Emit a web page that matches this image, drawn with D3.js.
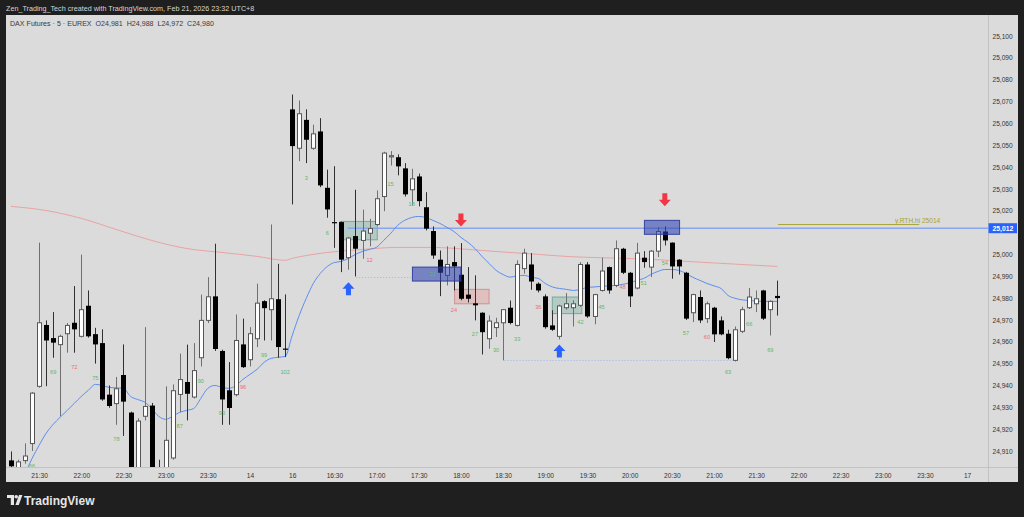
<!DOCTYPE html>
<html><head><meta charset="utf-8">
<script src="https://cdn.jsdelivr.net/npm/d3@7/dist/d3.min.js"></script>
<style>
html,body{margin:0;padding:0;background:#1f1f1f;overflow:hidden;}
svg{display:block;font-family:"Liberation Sans",Arial,sans-serif;}
</style></head><body>
<svg id="chart" width="1024" height="517"></svg>
<script>
// ---------------- DATA ----------------
const headerText = "Zen_Trading_Tech created with TradingView.com, Feb 21, 2026 23:32 UTC+8";
const legendText = "DAX Futures \u00b7 5 \u00b7 EUREX  O24,981  H24,988  L24,972  C24,980";

const xTickBars   = [4,10,16,22,28,34,40,46,52,58,64,70,76,82,88,94,100,106,112,118,124,130,136];
const xTickLabels = ["21:30","22:00","22:30","23:00","23:30","14","16","16:30","17:00","17:30","18:00","18:30","19:00","19:30","20:00","20:30","21:00","21:30","22:00","22:30","23:00","23:30","17"];
const priceTicks  = [24910,24920,24930,24940,24950,24960,24970,24980,24990,25000,25010,25020,25030,25040,25050,25060,25070,25080,25090,25100];

const opens  = [24905.7,24902,24905.6,24913.4,24939.6,24967.7,24961.7,24958.7,24963.7,24968.7,24962.5,24976.5,24963.5,24959.4,24935.8,24931.7,24944.8,24927.6,24901,24925.9,24930.8,24899,24899,24906.8,24935.9,24941.6,24934.7,24952.7,24969.8,24980.8,24955.8,24937.8,24935.8,24958.8,24951.8,24961.4,24978.6,24974.7,24979.5,24956.9,
25066.4,25048.6,25061.6,25048.6,25056.3,25030.5,25014.8,25014.8,24998.5,25008.4,25006.4,25009.7,25013.7,25026.5,25045,25044.5,25039.4,25029.6,25035.7,25021.6,25010.7,24997.6,24990.4,24996.5,24990.7,24981.6,24977.6,24973.3,24961.4,24966.5,24968.7,24975.6,24967.5,24993.5,24995.4,24986.6,24980.8,24967.5,24962.5,24975.6,24975.6,24976.7,24995.4,24971.6,24983.5,24994.2,24985.8,25002.6,24991.6,24984.6,24998.5,24994.2,25001.5,25010.5,25005.4,24997.6,24991.6,24973.3,24980.5,24970.6,24975.6,24969.8,24963.7,24951.5,24964.8,24975.6,24977.4,24983.5,24974.7,24981];
const highs  = [24909.8,24906,24913.5,24937,25005.4,24969.8,24973.6,24963.3,24968.6,24985.5,24999.9,24983.5,24966.4,24965.7,24940,24943.9,24958.8,24928,24925,24966.7,24932,24906,24939.6,24940.5,24954.6,24958.7,24959.4,24981.6,24989.6,25004.9,24956.4,24950.7,24972.5,24970.6,24966.7,24986.6,24979,25013.7,24995.7,24981.7,
25073.2,25070.5,25066.4,25059.4,25062.4,25038.8,25040.4,25015,25008,25029.6,25020.5,25016.3,25029.3,25047,25047.3,25045.8,25041.8,25039.2,25037,25028.5,25012.8,25001.8,25003.7,25003.7,25005.2,24994.2,24990.4,24973.5,24972.1,24971,24975,24978.9,24997.3,25002.6,25000.6,24987.2,24981.7,24974.4,24977,24982.3,24979,24996.5,24996.5,24982,24998.5,24994.5,25006.4,25003,24992,25005.3,25001.5,25002,25012.5,25012.8,25005.5,24997.8,24992,24982,24983.5,24978.4,24976,24971.6,24965.5,24967,24976,24984.6,24983.5,24983.8,24979,24988];
const lows   = [24902,24901,24904.2,24910,24939,24939.7,24952.7,24925.9,24955,24955,24962,24961.9,24950,24933,24929.8,24922,24916.9,24898,24898,24924,24897,24890,24896,24906,24927.8,24924,24934,24948.7,24968.6,24955.8,24922,24922,24935,24948,24948.7,24957.6,24960.6,24960.6,24952.7,24953,
25022.9,25042.7,25041.8,25047.9,25030.8,25016.8,25003,24991.9,24993,24989.9,24998,25003.7,25013,25019.8,25040.7,25036.2,25026.5,25022.4,25022,25011,24998,24980.9,24985.8,24983.5,24979,24978,24969.8,24954.2,24956.8,24962.2,24951.5,24968,24967,24991.2,24983.8,24982.6,24966,24965,24961.1,24974.7,24967,24976,24971,24968,24983,24982,24985,24991,24975.9,24984,24993.9,24989.6,24998.8,25004.1,24988.9,24990.8,24970,24969,24968.6,24968.6,24959.9,24963,24952,24951,24964,24975,24973.6,24970,24962.9,24972];
const closes = [24903,24905,24907.7,24936.5,24968.7,24960.6,24959.6,24962.5,24967.5,24965.7,24974.7,24962.5,24958.8,24933.6,24930.6,24938.5,24932.6,24901,24923.7,24930.4,24900,24895,24914.9,24937.6,24942.7,24936.2,24946.8,24969.8,24980.6,24956.7,24933.6,24929.7,24960.6,24948.4,24963.7,24977.7,24975.4,24979.7,24957.6,24956.8,
25049.6,25064.4,25052.5,25055.2,25031.6,25020.6,25014.6,24997.6,25007.5,25002.6,25010.7,25011.8,25025.5,25046.4,25045.2,25040.3,25027.5,25034.6,25024.4,25011.8,24999.5,24991.6,24995.4,24994.5,24979.7,24979.7,24976.7,24964.4,24969.5,24968.7,24974.7,24968.6,24995.4,25000.6,24987.6,24983.5,24966.7,24965.5,24976.4,24977.4,24977.4,24995.4,24971.6,24981.6,24992.4,24983.5,25002.6,24991.6,24980.8,25000.6,24996.5,25001.5,25010.5,25006.4,24994.5,24994.5,24970.6,24981.6,24969.8,24977.4,24963.4,24963.4,24952.5,24965.5,24974.7,24980.5,24979.7,24970.6,24978.5,24980];

// fast moving average (blue), one value per bar starting at bar 2
const emaStartBar = 2;
const emaValues = [24899.3,24906.6,24912.6,24918.1,24922.2,24925.5,24928.6,24931.8,24935,24937.8,24940.5,24940.0,24939.1,24938.9,24938.7,24935,24933.6,24932.4,24929.5,24925.9,24924.5,24925.9,24927.7,24928.6,24929.5,24934.1,24938.7,24940.0,24939.1,24938.7,24940.0,24942.8,24945.1,24947.4,24950.6,24952.4,24952.9,24953.3,
24962.9,24972.1,24979.9,24986.7,24991.3,24994.5,24996.3,24996.8,24998.2,25000,25001.4,25002.3,25003.3,25006.4,25009.6,25013.3,25015.6,25016.9,25017.4,25016.9,25015.6,25014.2,25012.4,25010.5,25007.8,25005.5,25002.7,24999.1,24995.9,24992.7,24990.8,24989.6,24990.2,24990.4,24989.5,24989.0,24986.7,24985.1,24984.4,24984.0,24983.5,24984.0,24984.9,24985.1,24985.4,24985.6,24985.8,24986.3,24987.0,24988.1,24989.0,24990.8,24992.2,24993.1,24993.1,24992.7,24991.3,24989.5,24988.1,24986.7,24985.6,24984.4,24981.2,24979.9,24979.2,24978.9,24978.6,24978.5,24978.5,24978.5];

// slow moving average (pink), sampled bars
const slowMaBars   = [0,5,10,15,20,25,30,35,39,40,42,45,50,55,60,65,70,75,80,85,90,95,100,105,109];
const slowMaValues = [25022.0,25020.1,25016.5,25011.4,25006.4,25002.7,25000.9,24999.1,24997.3,24998.2,24999.5,25000.9,25002.3,25003.2,25003.2,25002.3,25001.1,25000,24998.9,24998.4,24997.9,24997.0,24996.1,24995.2,24994.5];

// bar-count labels
const countBars   = [3,6,9,12,15,24,27,30,33,36,39,42,45,51,54,57,60,63,66,69,72,75,78,81,84,87,90,93,96,99,102,105,108];
const countTexts  = ["66","69","72","75","78","87","90","93","96","99","102","3","6","12","15","18","21","24","27","30","33","36","39","42","45","48","51","54","57","60","63","66","69"];
const countPrices = [24903.1,24946.1,24948.3,24943.2,24915.3,24921.3,24942.0,24927.4,24939.3,24954.1,24946.0,25035.1,25009.9,24997.3,25032.4,25023.2,24991.1,24974.4,24963.4,24956.1,24961.1,24975.9,24954.2,24969.0,24975.9,24985.0,24986.9,24996.2,24964.0,24962.1,24946.1,24968.0,24956.1];
const countRed    = ["72","96","12","24","36","48","60"];

// zones [barFrom, barTo, priceTop, priceBottom]
const greenZones = [[46.8,52.1,25015.1,25006.7],[77.0,81.2,24980.5,24972.9]];
const blueZones  = [[57.1,64.0,24994.2,24987.8],[90.1,95.1,25015.6,25009.2]];
const redZones   = [[63.1,68.0,24984.0,24977.4]];
// dotted levels [barFrom, barTo, price]
const dottedLevels = [[49.1,57.1,24989.6],[70.2,102.7,24951.5]];
// signals
const buyBars = [48,78];   const buyPrices = [24987.3,24958.8];
const sellBars = [64,93];  const sellPrices = [25012.8,25022.0];
// horizontal levels
const lastLevel = 25012;   const lastLevelFromBar = 47.9;
const rthHigh = 25014;     const rthFromBar = 109.1; const rthToBar = 129.2;
const rthLabel = "y.RTH.hi 25014";

// ---------------- LAYOUT ----------------
const W = 1024, H = 517;
const paneL = 6, paneR = 1018, paneT = 15, paneB = 482;
const plotR = 988.5, plotB = 467.5;
const svg = d3.select("#chart");
const x = d3.scaleLinear().domain([0,136]).range([11,967.1]);
const y = d3.scaleLinear().domain([24910,25100]).range([451,36]);
const fmt = d3.format(",");

svg.append("rect").attr("width",W).attr("height",H).attr("fill","#1f1f1f");
svg.append("rect").attr("x",paneL).attr("y",paneT).attr("width",paneR-paneL).attr("height",paneB-paneT).attr("fill","#dbdbdb");

svg.append("text").attr("x",6).attr("y",10.5).attr("fill","#d6d6d6").attr("font-size",7.2).text(headerText);

const defs = svg.append("defs");
defs.append("clipPath").attr("id","plot").append("rect")
  .attr("x",paneL).attr("y",paneT).attr("width",plotR-paneL).attr("height",plotB-paneT);

const g = svg.append("g").attr("clip-path","url(#plot)");

// slow MA
g.append("path")
  .datum(slowMaBars.map((b,k)=>[b,slowMaValues[k]]))
  .attr("fill","none").attr("stroke","#e8a3a3").attr("stroke-width",1)
  .attr("d", d3.line().x(d=>x(d[0])).y(d=>y(d[1])).curve(d3.curveMonotoneX));

// zones
function zone(arr, fill, stroke){
  arr.forEach(z=>{
    g.append("rect").attr("x",x(z[0])).attr("y",y(z[2]))
      .attr("width",x(z[1])-x(z[0])).attr("height",y(z[3])-y(z[2]))
      .attr("fill",fill).attr("stroke",stroke).attr("stroke-width",1);
  });
}
zone(greenZones,"rgba(95,170,150,0.32)","rgba(110,165,150,0.9)");
zone(redZones,"rgba(235,140,140,0.35)","rgba(205,140,140,0.9)");

// dotted levels
dottedLevels.forEach(d=>{
  g.append("line").attr("x1",x(d[0])).attr("x2",x(d[1])).attr("y1",Math.round(y(d[2]))+0.5).attr("y2",Math.round(y(d[2]))+0.5)
    .attr("stroke","#9fb4ea").attr("stroke-width",1).attr("stroke-dasharray","1,2");
});

// last price level line
g.append("line").attr("x1",x(lastLevelFromBar)).attr("x2",plotR).attr("y1",y(lastLevel)).attr("y2",y(lastLevel))
  .attr("stroke","#8aa6f0").attr("stroke-width",1.6);

// rth high
g.append("line").attr("x1",x(rthFromBar)).attr("x2",x(rthToBar)).attr("y1",Math.round(y(rthHigh))+0.5).attr("y2",Math.round(y(rthHigh))+0.5)
  .attr("stroke","#a9a640").attr("stroke-width",1);
g.append("text").attr("x",x(rthToBar)+21).attr("y",y(rthHigh)-1.2).attr("text-anchor","end")
  .attr("fill","#a6a338").attr("font-size",6.6).text(rthLabel);

// fast MA
g.append("path")
  .datum(emaValues.map((v,k)=>[emaStartBar+k,v]))
  .attr("fill","none").attr("stroke","#5b8def").attr("stroke-width",1)
  .attr("d", d3.line().x(d=>x(d[0])).y(d=>y(d[1])).curve(d3.curveMonotoneX));

// candles
const bars = opens.map((o,i)=>({i,o,h:highs[i],l:lows[i],c:closes[i]}));
const cg = g.append("g");
bars.forEach(b=>{
  const up = b.c >= b.o;
  const cx = Math.round(x(b.i));
  cg.append("line").attr("x1",cx+0.5).attr("x2",cx+0.5).attr("y1",y(b.h)).attr("y2",y(b.l))
    .attr("stroke", up ? "#707070" : "#303030").attr("stroke-width",1);
  const top = y(Math.max(b.o,b.c)), bot = y(Math.min(b.o,b.c));
  const hgt = Math.max(1.2, bot-top);
  if(up){
    cg.append("rect").attr("x",cx-1.5).attr("y",top).attr("width",4).attr("height",hgt)
      .attr("fill","#ffffff").attr("stroke","#555").attr("stroke-width",1);
  } else {
    cg.append("rect").attr("x",cx-2).attr("y",top).attr("width",5).attr("height",hgt)
      .attr("fill","#000");
  }
});

// blue zones over candles
zone(blueZones,"rgba(45,65,175,0.58)","rgba(40,55,160,0.9)");

// count labels
countBars.forEach((b,k)=>{
  g.append("text").attr("x",x(b)).attr("y",y(countPrices[k])+2)
    .attr("text-anchor","middle").attr("font-size",5.6)
    .attr("fill", countRed.includes(countTexts[k]) ? "#ef6b6b" : "#5fb865")
    .text(countTexts[k]);
});

// arrows
buyBars.forEach((b,k)=>{
  const cx = x(b), ty = y(buyPrices[k]);
  g.append("path").attr("fill","#2962ff")
   .attr("d",`M${cx},${ty}L${cx+6},${ty+6.5}L${cx+2.5},${ty+6.5}L${cx+2.5},${ty+13}L${cx-2.5},${ty+13}L${cx-2.5},${ty+6.5}L${cx-6},${ty+6.5}Z`);
});
sellBars.forEach((b,k)=>{
  const cx = x(b), ty = y(sellPrices[k]);
  g.append("path").attr("fill","#f23645")
   .attr("d",`M${cx},${ty}L${cx+6},${ty-6.5}L${cx+2.5},${ty-6.5}L${cx+2.5},${ty-13}L${cx-2.5},${ty-13}L${cx-2.5},${ty-6.5}L${cx-6},${ty-6.5}Z`);
});

// legend
svg.append("text").attr("x",10).attr("y",25.5).attr("fill","#3a3a3a").attr("font-size",7.1)
  .attr("xml:space","preserve").text(legendText);

// axes separators
svg.append("line").attr("x1",plotR).attr("x2",plotR).attr("y1",paneT).attr("y2",paneB).attr("stroke","#c2c2c2");
svg.append("line").attr("x1",paneL).attr("x2",paneR).attr("y1",plotB).attr("y2",plotB).attr("stroke","#c2c2c2");

// price axis (labels hidden under the last-level tag are skipped, as on the chart)
const shownPriceTicks = priceTicks.filter(v => Math.abs(y(v) - y(lastLevel)) > 8);
const ya = svg.append("g").attr("transform",`translate(${plotR},0)`)
  .call(d3.axisRight(y).tickValues(shownPriceTicks).tickSize(0).tickPadding(4).tickFormat(fmt));
ya.select(".domain").remove();
ya.selectAll("text").attr("fill","#333").attr("font-size",6.6).attr("font-family","Liberation Sans, Arial, sans-serif");

// last level tag
svg.append("rect").attr("x",plotR).attr("y",y(lastLevel)-5).attr("width",paneR-plotR-1).attr("height",10).attr("fill","#2962ff");
svg.append("text").attr("x",plotR+4).attr("y",y(lastLevel)+2.5).attr("fill","#fff").attr("font-size",6.8).attr("font-weight","bold").text(fmt(lastLevel));

// time axis
const xa = svg.append("g").attr("transform",`translate(0,${plotB})`)
  .call(d3.axisBottom(x).tickValues(xTickBars).tickSize(0).tickPadding(6)
    .tickFormat((d,k)=>xTickLabels[k]));
xa.select(".domain").remove();
xa.selectAll("text").attr("fill","#333").attr("font-size",6.6).attr("font-family","Liberation Sans, Arial, sans-serif");

// TradingView logo
const lg = svg.append("g").attr("fill","#e6e6e6");
lg.append("path").attr("d","M7,495 h7 v10 h-3.2 v-7 h-3.8 z");
lg.append("circle").attr("cx",16.2).attr("cy",496.8).attr("r",1.8);
lg.append("path").attr("d","M19,495 h3.4 l-3.6,10 h-3.4 z");
lg.append("text").attr("x",24).attr("y",504.5).attr("font-size",12).attr("font-weight","600").text("TradingView");
</script>
</body></html>
